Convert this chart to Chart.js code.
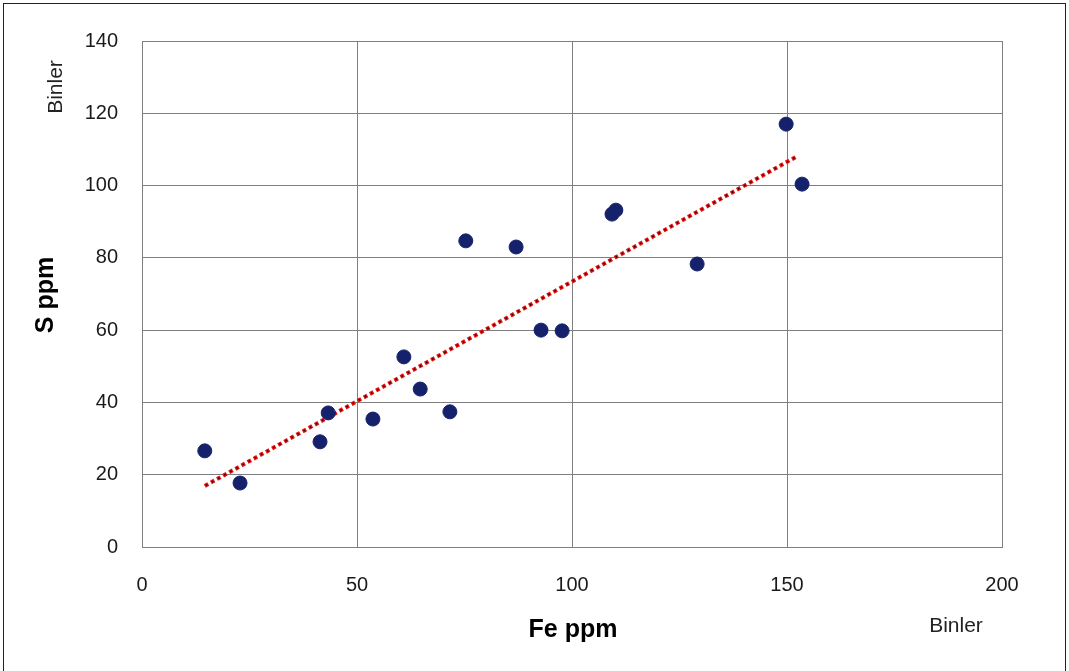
<!DOCTYPE html>
<html><head><meta charset="utf-8">
<script src="https://cdn.jsdelivr.net/npm/chart.js@4/dist/chart.umd.min.js"></script>
<style>
html,body{margin:0;padding:0;background:#fff;}
#wrap{position:relative;width:1069px;height:671px;}
#frame{position:absolute;left:3px;top:3px;width:1063px;height:668px;border:1px solid #222;border-bottom:none;box-sizing:border-box;pointer-events:none;}
canvas{display:block;}
</style></head>
<body><div id="wrap"><canvas id="c" width="1069" height="671"></canvas><div id="frame"></div></div>
<script>
const feValues = [14.6, 22.8, 41.4, 43.3, 53.7, 60.9, 64.7, 71.6, 75.3, 87.0, 92.8, 97.7, 109.3, 110.2, 129.1, 149.8, 153.5];
const sValues  = [26.6, 17.7, 29.1, 37.1, 35.4, 52.6, 43.7, 37.4, 84.7, 83.0, 60.0, 59.8, 92.1, 93.2, 78.3, 117.0, 100.4];
const trendX = [14.6, 152.5];
const trendY = [16.9, 108.2];
const xTicks = [0, 50, 100, 150, 200];
const yTicks = [0, 20, 40, 60, 80, 100, 120, 140];
const xTitle = 'Fe ppm';
const yTitle = 'S ppm';
const unitLabel = 'Binler';

const font = "'Liberation Sans', Arial, sans-serif";

const labelsPlugin = {
  id: 'labels',
  afterDraw(chart) {
    const ctx = chart.ctx;
    ctx.save();
    ctx.fillStyle = '#000';
    ctx.font = "bold 25px " + font;
    ctx.textAlign = 'center';
    ctx.textBaseline = 'middle';
    ctx.fillText(xTitle, 573, 630);
    ctx.save();
    ctx.translate(46, 295);
    ctx.rotate(-Math.PI/2);
    ctx.fillText(yTitle, 0, 0);
    ctx.restore();
    ctx.font = "21px " + font;
    ctx.fillStyle = '#222';
    ctx.fillText(unitLabel, 956, 626);
    ctx.save();
    ctx.translate(56, 87);
    ctx.rotate(-Math.PI/2);
    ctx.fillText(unitLabel, 0, 0);
    ctx.restore();
    ctx.restore();
  }
};

const trendPts = trendX.map((x, i) => ({x, y: trendY[i]}));

new Chart(document.getElementById('c'), {
  type: 'scatter',
  data: {
    datasets: [
      {
        type: 'line',
        data: trendPts,
        borderColor: '#e51212',
        borderWidth: 4,
        borderDash: [4, 3],
        pointRadius: 0,
        fill: false,
        order: 3
      },
      {
        type: 'line',
        data: trendPts,
        borderColor: '#3a0000',
        borderWidth: 1.6,
        borderDash: [1.6, 5.4],
        borderDashOffset: -1.2,
        pointRadius: 0,
        fill: false,
        order: 2
      },
      {
        data: feValues.map((x, i) => ({x, y: sValues[i]})),
        backgroundColor: '#15226b',
        borderColor: '#15226b',
        pointRadius: 7,
        pointHoverRadius: 7,
        order: 1
      }
    ]
  },
  options: {
    responsive: false,
    animation: false,
    devicePixelRatio: 1,
    layout: { padding: { left: 0, top: 41, right: 67, bottom: 0 } },
    plugins: { legend: { display: false }, tooltip: { enabled: false } },
    scales: {
      x: {
        type: 'linear', min: 0, max: 200,
        afterBuildTicks(s) { s.ticks = xTicks.map(v => ({value: v})); },
        afterFit(s) { s.height = 124; },
        grid: { color: '#7f7f7f', lineWidth: 1, drawTicks: false },
        border: { color: '#7f7f7f', width: 1 },
        ticks: { color: '#1a1a1a', padding: 26, font: { family: font, size: 20 } }
      },
      y: {
        type: 'linear', min: 0, max: 140,
        afterBuildTicks(s) { s.ticks = yTicks.map(v => ({value: v})); },
        afterFit(s) { s.width = 142; },
        grid: { color: '#7f7f7f', lineWidth: 1, drawTicks: false },
        border: { color: '#7f7f7f', width: 1 },
        ticks: { color: '#1a1a1a', padding: 24, font: { family: font, size: 20 } }
      }
    }
  },
  plugins: [labelsPlugin, {
    id: 'rightBorder',
    beforeDatasetsDraw(chart) {
      const a = chart.chartArea, ctx = chart.ctx;
      ctx.save(); ctx.strokeStyle = '#7f7f7f'; ctx.lineWidth = 1;
      ctx.beginPath(); ctx.moveTo(a.right + 0.5, a.top); ctx.lineTo(a.right + 0.5, a.bottom); ctx.stroke();
      ctx.beginPath(); ctx.moveTo(a.left, a.top + 0.5); ctx.lineTo(a.right, a.top + 0.5); ctx.stroke();
      ctx.restore();
    }
  }]
});
</script></body></html>
